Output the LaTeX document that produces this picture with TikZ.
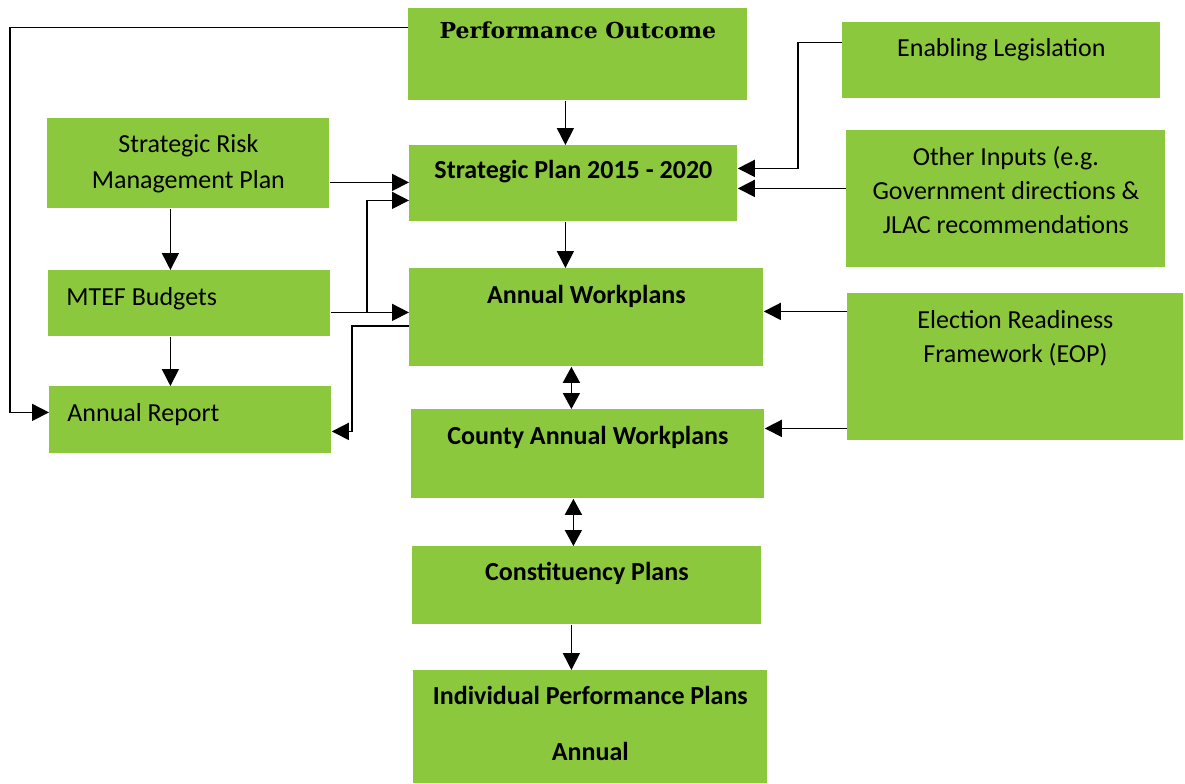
\documentclass[tikz,border=0pt]{standalone}
\usepackage{fontspec}
\setmainfont{Carlito}
\newfontfamily\poserif{DejaVu Serif}
\usetikzlibrary{arrows.meta,calc}
\definecolor{gc}{RGB}{140,200,62}
\newcommand{\twol}[1]{\begin{tabular}[t]{@{}c@{}}#1\end{tabular}}
\tikzset{blk/.style={fill=gc,inner sep=0pt,anchor=north west,font=\fontsize{13}{17}\selectfont},
 bblk/.style={blk,font=\fontsize{13}{17}\selectfont\bfseries},
 lblk/.style={blk,inner xsep=9pt,text width=123pt,align=flush left},
 arr/.style={-{Triangle[length=8.5pt,width=8.5pt]},line width=.8pt},
 dbl/.style={{Triangle[length=8pt,width=8.5pt]}-{Triangle[length=8pt,width=8.5pt]},line width=.8pt}}
\begin{document}
\begin{tikzpicture}[x=.5pt,y=-.5pt]
\useasboundingbox (0,0) rectangle (1185,783);
\node[blk,font=\poserif\fontsize{11}{13}\selectfont\bfseries,minimum width=169.5pt,text height=15pt,text depth=31pt] (po) at (408,8) {Performance Outcome};
\node[blk,minimum width=159pt,text height=17pt,text depth=21pt] (el) at (842,22) {Enabling Legislation};
\node[blk,minimum width=141pt,text height=17pt,text depth=28pt] (srm) at (47,118) {\twol{Strategic Risk\\[1pt]Management Plan}};
\node[bblk,minimum width=164pt,text height=16.5pt,text depth=21.5pt] (sp) at (409,145) {Strategic Plan 2015 - 2020};
\node[blk,minimum width=159.5pt,text height=17.5pt,text depth=51pt] (oi) at (846,130) {\twol{Other Inputs (e.g.\\Government directions \&\\JLAC recommendations}};
\node[lblk,text height=17.5pt,text depth=15.5pt] (mtef) at (48,270) {MTEF Budgets};
\node[bblk,minimum width=177pt,text height=17.5pt,text depth=31.5pt] (aw) at (409,268) {Annual Workplans};
\node[blk,minimum width=168pt,text height=17.5pt,text depth=56pt] (erf) at (847,293) {\twol{Election Readiness\\Framework (EOP)}};
\node[lblk,text height=17.5pt,text depth=16pt] (ar) at (49,386) {Annual Report};
\node[bblk,minimum width=176.5pt,text height=17.5pt,text depth=27pt] (caw) at (411,409) {County Annual Workplans};
\node[bblk,minimum width=174.5pt,text height=17pt,text depth=22pt] (cp) at (412,546) {Constituency Plans};
\node[bblk,minimum width=177pt,text height=17pt,text depth=39.5pt] (ipp) at (413,670) {\twol{Individual Performance Plans\\[11pt]Annual}};
% outcome feeds the plan and the report
\draw[arr] ([yshift=13.5pt]po.west) -- ++(-398,0) |- ([yshift=3.75pt]ar.west);
\draw[arr] ([xshift=-4pt]sp.north |- po.south) -- ([xshift=-4pt]sp.north);
% left column
\draw[arr] ([yshift=-9.5pt]srm.east) -- ([yshift=-9.5pt]srm.east -| sp.west);
\draw[arr] ([xshift=-9pt]srm.south) -- ([xshift=-9pt]srm.south |- mtef.north);
\draw[arr] ([xshift=-9.5pt]mtef.south) -- ([xshift=-9.5pt]mtef.south |- ar.north);
\draw[arr] ([yshift=-4.5pt]mtef.east) -- ([yshift=-4.5pt]mtef.east -| aw.west);
\draw[arr] ([yshift=-4.5pt,xshift=18pt]mtef.east) |- ([yshift=-8.5pt]sp.west);
\draw[arr] ([yshift=-4.25pt]aw.west) -- ++(-57,0) |- ([yshift=-5.75pt]ar.east);
% middle column
\draw[arr] ([xshift=-4pt]sp.south) -- ([xshift=-4pt]sp.south |- aw.north);
\draw[dbl] ([xshift=-7.5pt]aw.south) -- ([xshift=-7.5pt]aw.south |- caw.north);
\draw[dbl] ([xshift=-7.25pt]caw.south) -- ([xshift=-7.25pt]caw.south |- cp.north);
\draw[arr] ([xshift=-7.75pt]cp.south) -- ([xshift=-7.75pt]cp.south |- ipp.north);
% right column inputs
\draw[arr] ([yshift=9pt]el.west) -- ++(-44,0) |- ([yshift=7.5pt]sp.east);
\draw[arr] ([yshift=-2.5pt]sp.east -| oi.west) -- ([yshift=-2.5pt]sp.east);
\draw[arr] ([yshift=3pt]aw.east -| erf.west) -- ([yshift=3pt]aw.east);
\draw[arr] ([yshift=12.75pt]caw.east -| erf.west) -- ([yshift=12.75pt]caw.east);
\end{tikzpicture}
\end{document}
